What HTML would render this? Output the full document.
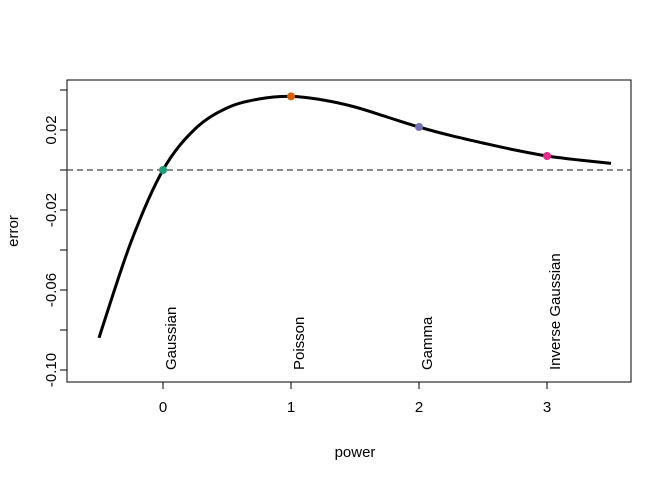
<!DOCTYPE html>
<html><head><meta charset="utf-8"><style>
body{margin:0;background:#fff}
svg{display:block;font-family:"Liberation Sans",Arial,sans-serif}
</style></head><body>
<svg id="chart" width="672" height="480">
<rect x="67" y="80" width="564" height="302" fill="none" stroke="#000"/>
<g id="xaxis"></g>
<g id="yaxis"></g>
<line id="zero" stroke="#444" stroke-dasharray="6,4" stroke-width="1.2"/>
<path id="curve" fill="none" stroke="#000" stroke-width="3"/>
<g id="pts"></g>
<g id="lbls"></g>
<text x="355" y="457" text-anchor="middle" font-size="15">power</text>
<text transform="translate(18,231) rotate(-90)" text-anchor="middle" font-size="15">error</text>
</svg>
<script>
const powers=[-0.5,-0.25,0,0.25,0.5,0.75,1,1.25,1.5,1.75,2,2.25,2.5,2.75,3,3.25,3.5];
const errors=[-0.0839,-0.036,0,0.0205,0.031,0.0355,0.0368,0.035,0.0315,0.0265,0.0215,0.0172,0.0135,0.0100,0.007,0.0050,0.0033];
const familyNames=["Gaussian","Poisson","Gamma","Inverse Gaussian"];
const familyPowers=[0,1,2,3];
const familyErrors=[0,0.0368,0.0215,0.007];
const familyColors=["#1b9e77","#d95f02","#7570b3","#e7298a"];
const xTicks=[0,1,2,3];
const yTicks=[0.04,0.02,0,-0.02,-0.04,-0.06,-0.08,-0.10];
const yTickLabels=["","0.02","","-0.02","","-0.06","","-0.10"];
const X=p=>163+128*p;
const Y=e=>170-2000*e;
const NS="http://www.w3.org/2000/svg";
function mk(t,a,parent){const el=document.createElementNS(NS,t);for(const k in a)el.setAttribute(k,a[k]);parent.appendChild(el);return el;}
const xa=document.getElementById('xaxis');
mk('line',{x1:X(0),x2:X(3),y1:382,y2:382,stroke:'#000'},xa);
xTicks.forEach(v=>{
 const l=mk('line',{x1:X(v),x2:X(v),y1:382,y2:389,stroke:'#000'},xa);
 
 
 const t=mk('text',{x:X(v),y:412,'text-anchor':'middle','font-size':15},xa);
 t.textContent=v;
 
 
});
const ya=document.getElementById('yaxis');
mk('line',{x1:67,x2:67,y1:Y(0.04),y2:Y(-0.10),stroke:'#000'},ya);
yTicks.forEach((v,i)=>{
 const l=mk('line',{x1:60,x2:67,y1:Y(v),y2:Y(v),stroke:'#000'},ya);
 
 
 if(yTickLabels[i]){
  const t=mk('text',{transform:`translate(56,${Y(v)}) rotate(-90)`,'text-anchor':'middle','font-size':15},ya);
  t.textContent=yTickLabels[i];
  
  
 }
});
const z=document.getElementById('zero');
z.setAttribute('x1',67);z.setAttribute('x2',631);z.setAttribute('y1',Y(0));z.setAttribute('y2',Y(0));
const P=powers.map((p,i)=>[X(p),Y(errors[i])]);
let d=`M${P[0][0]},${P[0][1]}`;
for(let i=0;i<P.length-1;i++){
 const p0=P[Math.max(0,i-1)],p1=P[i],p2=P[i+1],p3=P[Math.min(P.length-1,i+2)];
 const c1=[p1[0]+(p2[0]-p0[0])/6,p1[1]+(p2[1]-p0[1])/6];
 const c2=[p2[0]-(p3[0]-p1[0])/6,p2[1]-(p3[1]-p1[1])/6];
 d+=` C${c1[0]},${c1[1]} ${c2[0]},${c2[1]} ${p2[0]},${p2[1]}`;
}
document.getElementById('curve').setAttribute('d',d);
const pts=document.getElementById('pts'),lb=document.getElementById('lbls');
familyNames.forEach((n,i)=>{
 const c=mk('circle',{cx:X(familyPowers[i]),cy:Y(familyErrors[i]),r:4,fill:familyColors[i]},pts);
 
 
 const t=mk('text',{transform:`translate(${X(familyPowers[i])+13},370) rotate(-90)`,'font-size':15},lb);
 t.textContent=n;
 
 
});
</script>
</body></html>
